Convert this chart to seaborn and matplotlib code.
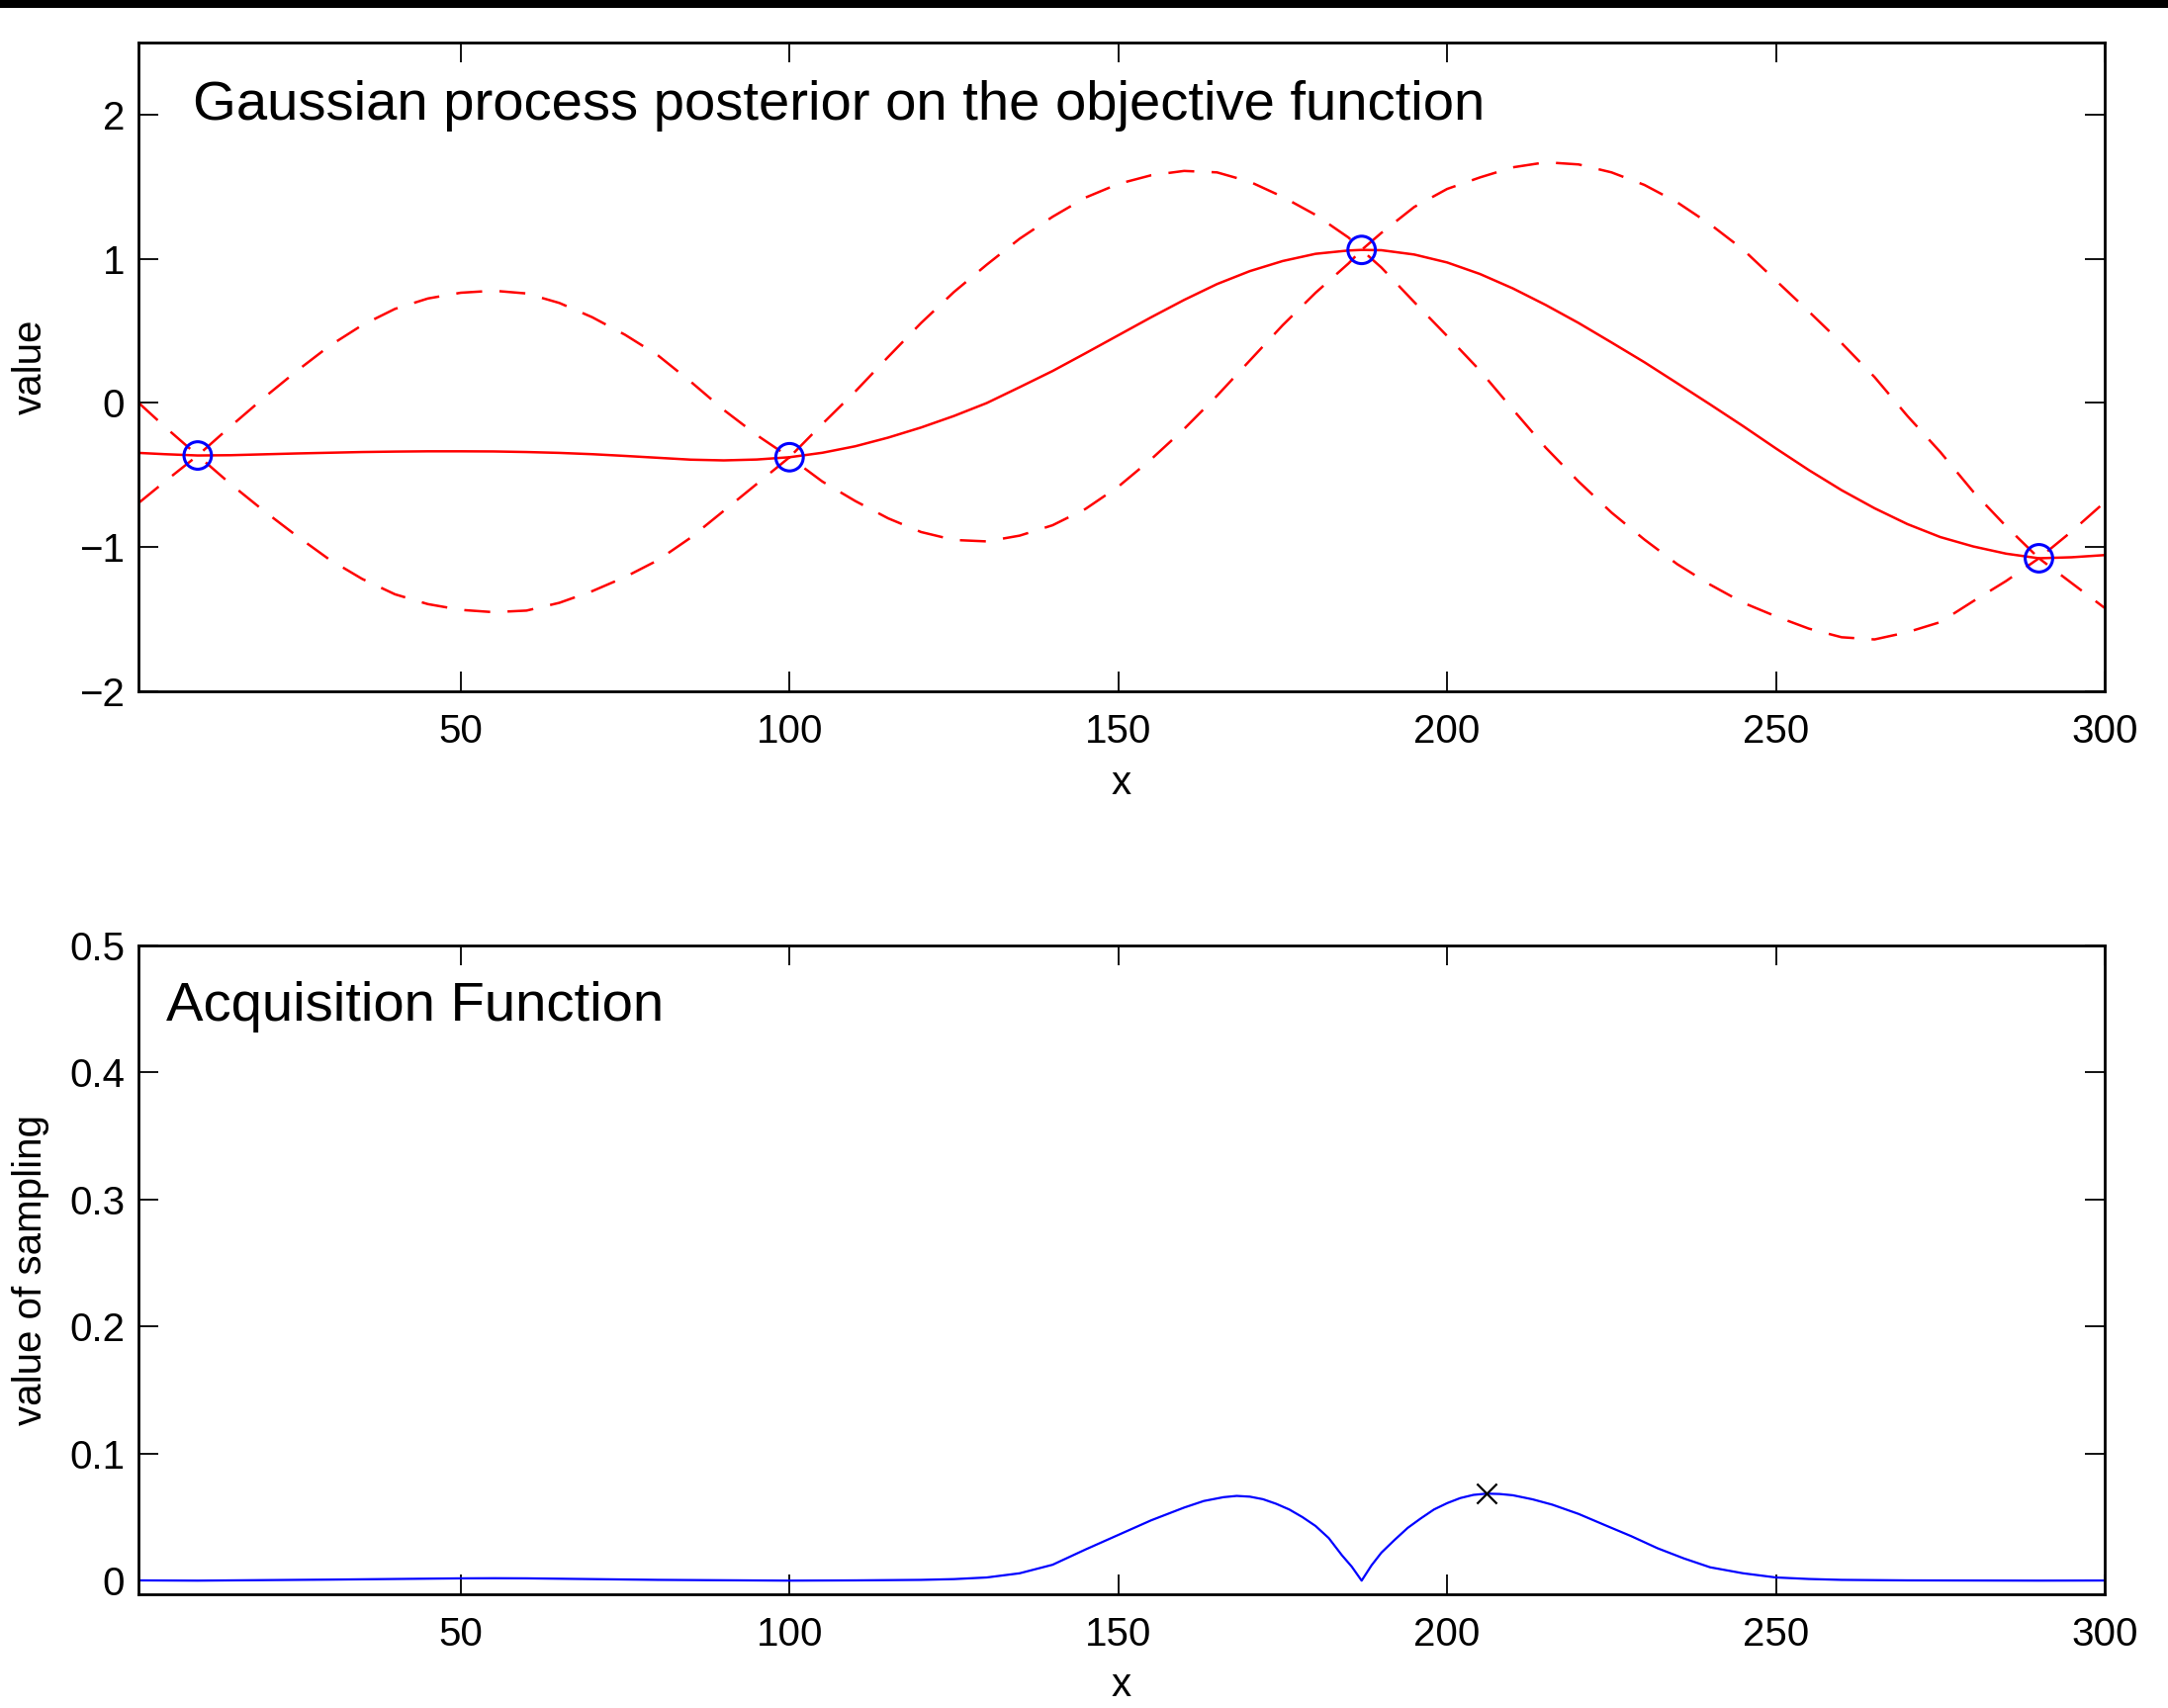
import numpy as np
import pandas as pd
import matplotlib
matplotlib.use("Agg")
import matplotlib.pyplot as plt
import seaborn as sns
from matplotlib.patches import Rectangle

# ---- Gaussian process posterior (mean and two-sigma band) ----
x_grid = [1, 5, 10, 15, 20, 25, 30, 35, 40, 45, 50, 55, 60, 65, 70, 75, 80, 85, 90, 95,
          100, 105, 110, 115, 120, 125, 130, 135, 140, 145, 150, 155, 160, 165, 170, 175,
          180, 185, 187, 190, 195, 200, 205, 210, 215, 220, 225, 230, 235, 240, 245, 250,
          255, 260, 265, 270, 275, 280, 285, 290, 295, 300]
post_mean = [-0.346, -0.355, -0.364, -0.362, -0.356, -0.350, -0.345, -0.340, -0.337, -0.335,
             -0.335, -0.336, -0.340, -0.346, -0.355, -0.367, -0.380, -0.393, -0.398, -0.392,
             -0.376, -0.345, -0.300, -0.240, -0.170, -0.090, 0.000, 0.110, 0.222, 0.345,
             0.470, 0.595, 0.715, 0.825, 0.915, 0.985, 1.035, 1.058, 1.062, 1.060,
             1.030, 0.975, 0.895, 0.795, 0.680, 0.555, 0.420, 0.283, 0.137, -0.010,
             -0.160, -0.315, -0.465, -0.605, -0.730, -0.840, -0.930, -0.995, -1.045, -1.077,
             -1.070, -1.055]
post_band = [0.348, 0.190, 0.000, 0.200, 0.390, 0.570, 0.740, 0.880, 0.990, 1.060,
             1.100, 1.115, 1.100, 1.040, 0.950, 0.840, 0.710, 0.540, 0.350, 0.170,
             0.000, 0.200, 0.380, 0.560, 0.725, 0.860, 0.960, 1.030, 1.070, 1.080,
             1.050, 0.985, 0.895, 0.775, 0.620, 0.445, 0.270, 0.090, 0.000, 0.120,
             0.330, 0.510, 0.670, 0.840, 0.990, 1.100, 1.180, 1.230, 1.255, 1.250,
             1.225, 1.165, 1.100, 1.020, 0.910, 0.750, 0.590, 0.380, 0.190, 0.000,
             0.180, 0.367]

# ---- observed samples ----
obs_x = [10, 100, 187, 290]
obs_y = [-0.364, -0.376, 1.062, -1.077]

# ---- acquisition function ----
acq_x = [1, 10, 20, 30, 40, 50, 55, 60, 70, 80, 90, 100, 110, 115, 120, 125, 130, 135,
         140, 145, 150, 155, 160, 163, 166, 168, 170, 172, 174, 176, 178, 180, 182, 184,
         185.5, 187, 188.5, 190, 192, 194, 196, 198, 200, 202, 204, 206, 208, 210, 213,
         216, 220, 224, 228, 232, 236, 240, 245, 250, 255, 260, 270, 280, 290, 300]
acq_val = [0.0002, 0.0000, 0.0004, 0.0008, 0.0013, 0.0018, 0.0019, 0.0018, 0.0012, 0.0006,
           0.0003, 0.0000, 0.0002, 0.0004, 0.0006, 0.0012, 0.0025, 0.0058,
           0.0125, 0.0245, 0.0360, 0.0475, 0.0575, 0.0627, 0.0657, 0.0667, 0.0661, 0.0641,
           0.0605, 0.0560, 0.0500, 0.0430, 0.0335, 0.0200,
           0.0110, 0.0000, 0.0120, 0.0220, 0.0320, 0.0415, 0.0490, 0.0560, 0.0610, 0.0650,
           0.0675, 0.0685, 0.0682, 0.0672, 0.0640,
           0.0598, 0.0525, 0.0437, 0.0350, 0.0255, 0.0175, 0.0105, 0.0058, 0.0025, 0.0013,
           0.0006, 0.0002, 0.0001, 0.0000, 0.0001]
next_x = [206]
next_val = [0.0685]

# ---- axis ticks ----
x_ticks = [50, 100, 150, 200, 250, 300]
x_ticklabels = ["50", "100", "150", "200", "250", "300"]
post_yticks = [-2, -1, 0, 1, 2]
post_yticklabels = ["\u22122", "\u22121", "0", "1", "2"]
acq_yticks = [0, 0.1, 0.2, 0.3, 0.4, 0.5]
acq_yticklabels = ["0", "0.1", "0.2", "0.3", "0.4", "0.5"]

plt.rcParams["font.family"] = ["Liberation Sans", "DejaVu Sans"]
plt.rcParams["axes.unicode_minus"] = True

RED = "#ff0000"
BLUE = "#0000ff"

fig = plt.figure(figsize=(21.92, 17.27), dpi=100)
fig.patch.set_facecolor("white")
ax1 = fig.add_axes([0.0639, 0.59525, 0.9069, 0.37979])
ax2 = fig.add_axes([0.0639, 0.06676, 0.9069, 0.37968])

# black strip along the top edge
fig.add_artist(Rectangle((0, 1 - 8 / 1727), 1, 8 / 1727, transform=fig.transFigure,
                         facecolor="black", edgecolor="none"))

post = pd.DataFrame({"x": x_grid, "mean": post_mean, "band": post_band})
post["upper"] = post["mean"] + post["band"]
post["lower"] = post["mean"] - post["band"]

dash = (0, (10.5, 7.0))
sns.lineplot(data=post, x="x", y="upper", ax=ax1, color=RED, lw=1.8,
             linestyle=dash, estimator=None, sort=False)
sns.lineplot(data=post, x="x", y="lower", ax=ax1, color=RED, lw=1.8,
             linestyle=dash, estimator=None, sort=False)
sns.lineplot(data=post, x="x", y="mean", ax=ax1, color=RED, lw=1.8,
             estimator=None, sort=False)
sns.scatterplot(x=obs_x, y=obs_y, ax=ax1, marker="o", s=20 ** 2,
                facecolor="none", edgecolor=BLUE, linewidth=2.2, zorder=5)

acq = pd.DataFrame({"x": acq_x, "value": acq_val})
sns.lineplot(data=acq, x="x", y="value", ax=ax2, color=BLUE, lw=1.6,
             estimator=None, sort=False)
sns.scatterplot(x=next_x, y=next_val, ax=ax2, marker="x", s=14.5 ** 2,
                color="black", linewidth=1.6, zorder=5)

ax1.set_xlim(1, 300)
ax1.set_ylim(-2, 2.5)
ax1.set_yticks(post_yticks)
ax1.set_yticklabels(post_yticklabels)
ax2.set_xlim(1, 300)
ax2.set_ylim(-0.0105, 0.5)
ax2.set_yticks(acq_yticks)
ax2.set_yticklabels(acq_yticklabels)

for ax in (ax1, ax2):
    ax.set_xticks(x_ticks)
    ax.set_xticklabels(x_ticklabels)
    ax.tick_params(direction="in", length=14.4, width=1.3, top=True, right=True,
                   labelsize=29, color="black")
    ax.tick_params(axis="x", pad=16)
    ax.tick_params(axis="y", pad=10)
    for sp in ax.spines.values():
        sp.set_linewidth(2.0)
        sp.set_color("black")
    ax.set_facecolor("white")
    ax.set_xlabel("x", fontsize=29, va="baseline")
    ax.xaxis.set_label_coords(0.5, -0.158)

ax1.set_ylabel("value", fontsize=29, va="center")
ax1.yaxis.set_label_coords(-0.0548, 0.5)
ax2.set_ylabel("value of sampling", fontsize=29, va="center")
ax2.yaxis.set_label_coords(-0.0548, 0.5)

ax1.text(9.3, 1.965, "Gaussian process posterior on the objective function",
         fontsize=40.5, ha="left", va="baseline")
ax2.text(5.2, 0.4405, "Acquisition Function", fontsize=40.5, ha="left", va="baseline")

fig.savefig("out.png", dpi=100, facecolor="white")
